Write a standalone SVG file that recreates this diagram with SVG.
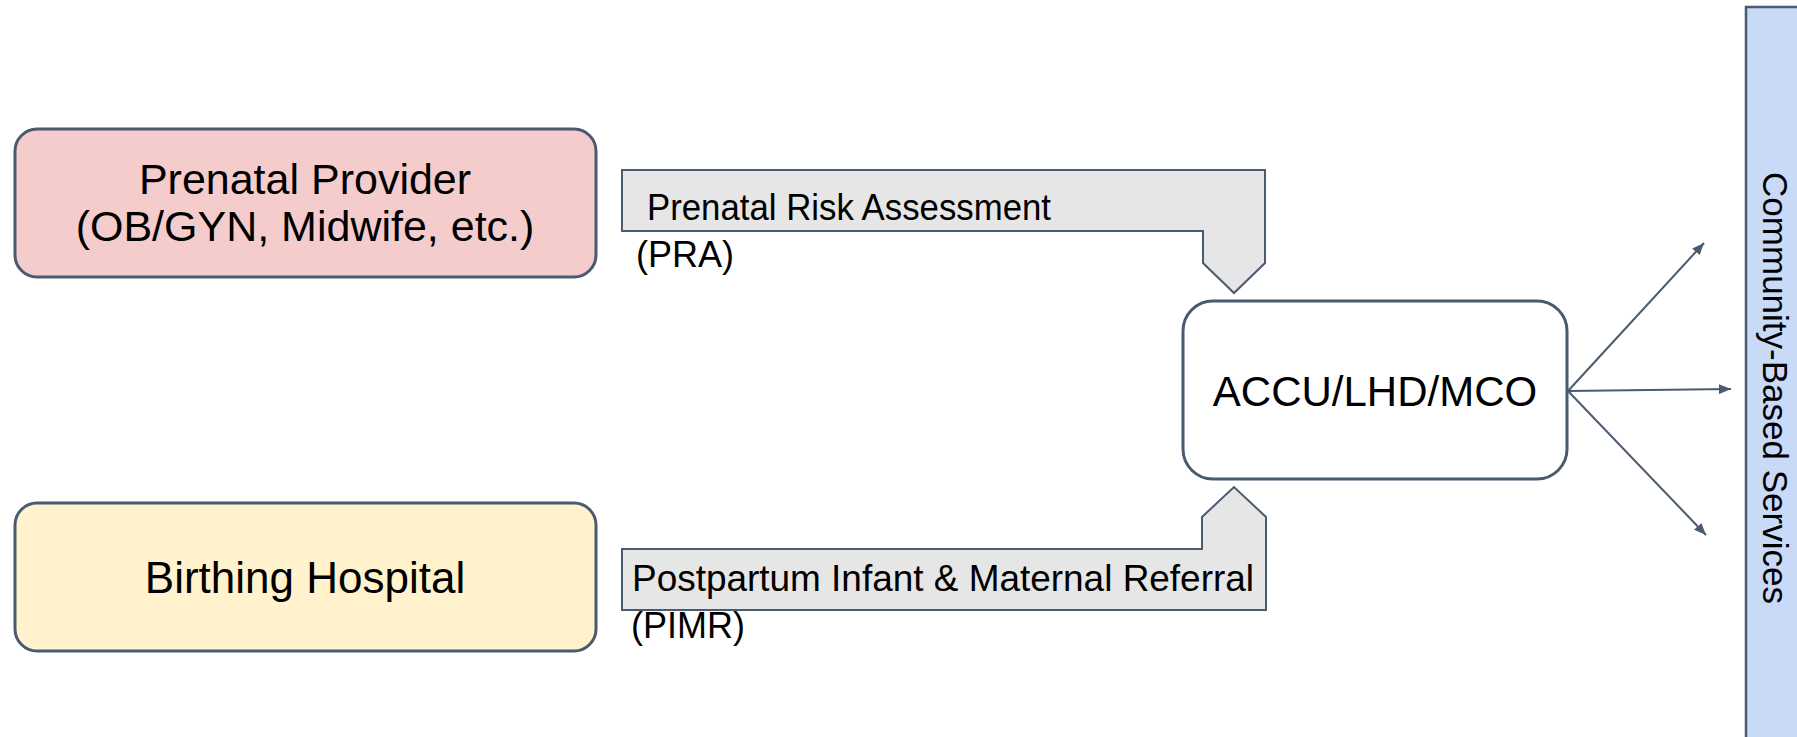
<svg xmlns="http://www.w3.org/2000/svg" width="1797" height="737" viewBox="0 0 1797 737">
  <style>
    .box { stroke: #4a5a70; stroke-width: 3; }
    .flow { fill: #e6e6e6; stroke: #4a5a70; stroke-width: 2; stroke-linejoin: miter; }
    .t { font-family: "Liberation Sans", Arial, sans-serif; fill: #000; }
    .big { font-size: 43px; }
    .mid { font-size: 36px; }
    .conn { stroke: #4a5a70; stroke-width: 2; fill: none; }
  </style>
  <defs>
    <marker id="ah" viewBox="0 0 12 10" refX="12" refY="5" markerWidth="12" markerHeight="10" markerUnits="userSpaceOnUse" orient="auto">
      <path d="M0,0 L12,5 L0,10 z" fill="#4a5a70"/>
    </marker>
  </defs>
  <rect x="0" y="0" width="1797" height="737" fill="#ffffff"/>

  <g id="community">
    <rect x="1746" y="7" width="70" height="750" fill="#c9daf8" stroke="#4a5a70" stroke-width="2.5"/>
    <text class="t" font-size="35" text-anchor="middle" transform="translate(1763,388) rotate(90)">Community-Based Services</text>
  </g>

  <g id="prenatal">
    <rect class="box" x="15" y="129" width="581" height="148" rx="22" fill="#f4cccc"/>
    <text class="t big" x="305" y="194" text-anchor="middle">Prenatal Provider</text>
    <text class="t big" x="305" y="241" text-anchor="middle">(OB/GYN, Midwife, etc.)</text>
  </g>

  <g id="birthing">
    <rect class="box" x="15" y="503" width="581" height="148" rx="22" fill="#fff2cc"/>
    <text class="t" font-size="44" x="305" y="593" text-anchor="middle">Birthing Hospital</text>
  </g>

  <g id="accu">
    <rect class="box" x="1183" y="301" width="384" height="178" rx="30" fill="#ffffff"/>
    <text class="t" font-size="42" x="1375" y="406" text-anchor="middle">ACCU/LHD/MCO</text>
  </g>

  <g id="pra">
    <path class="flow" d="M622,170 L1265,170 L1265,263 L1234,293 L1203,263 L1203,231 L622,231 Z"/>
    <text class="t mid" x="647" y="220" textLength="404" lengthAdjust="spacingAndGlyphs">Prenatal Risk Assessment</text>
    <text class="t mid" x="636" y="267">(PRA)</text>
  </g>

  <g id="pimr">
    <path class="flow" d="M622,610 L1266,610 L1266,517 L1234,487 L1202,517 L1202,549 L622,549 Z"/>
    <text class="t mid" x="632" y="591" textLength="622" lengthAdjust="spacingAndGlyphs">Postpartum Infant &amp; Maternal Referral</text>
    <text class="t mid" x="631" y="638">(PIMR)</text>
  </g>

  <g id="connectors">
    <line class="conn" x1="1568" y1="391" x2="1704" y2="243" marker-end="url(#ah)"/>
    <line class="conn" x1="1568" y1="391" x2="1731" y2="389" marker-end="url(#ah)"/>
    <line class="conn" x1="1568" y1="391" x2="1706" y2="535" marker-end="url(#ah)"/>
  </g>
</svg>
